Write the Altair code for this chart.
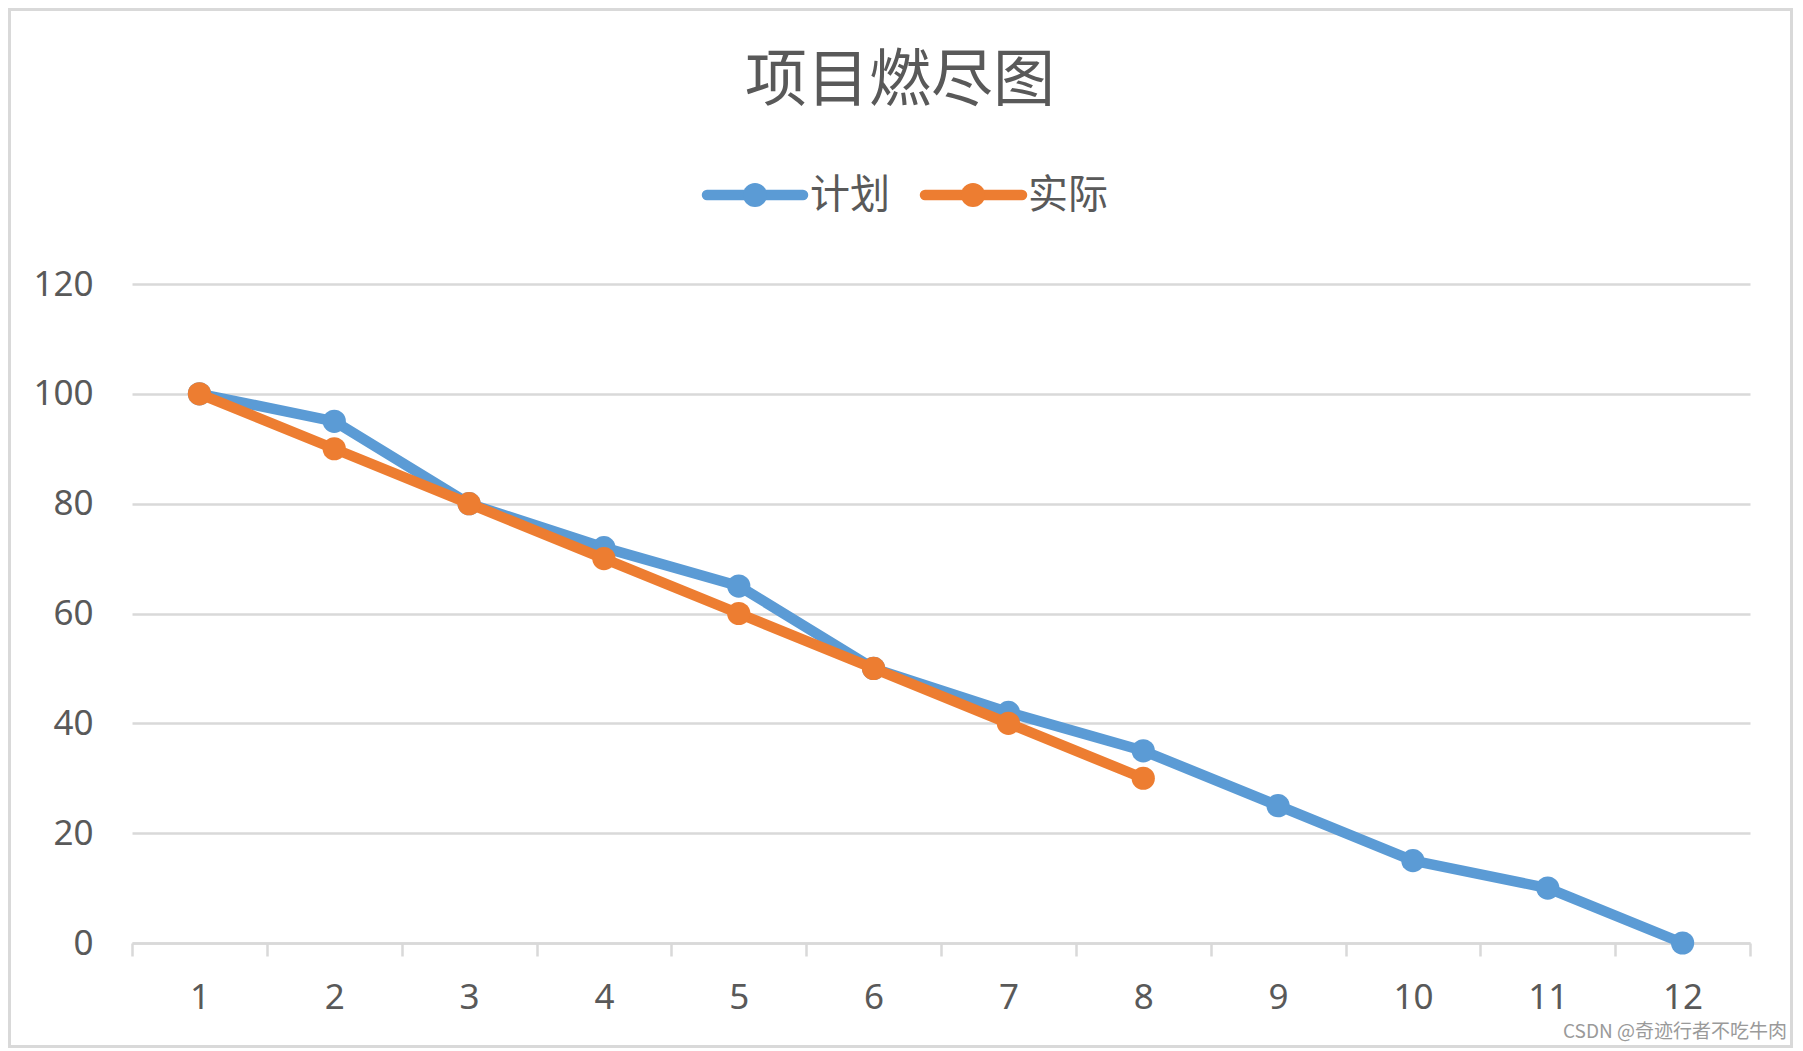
import altair as alt
import pandas as pd

# ---- data ----
periods = [1, 2, 3, 4, 5, 6, 7, 8, 9, 10, 11, 12]
plan = [100, 95, 80, 72, 65, 50, 42, 35, 25, 15, 10, 0]
actual = [100, 90, 80, 70, 60, 50, 40, 30]
series_names = ["计划", "实际"]
series_colors = ["#5B9BD5", "#ED7D31"]
y_ticks = [0, 20, 40, 60, 80, 100, 120]
title_text = "项目燃尽图"
watermark_text = "CSDN @奇迹行者不吃牛肉"

plan_df = pd.DataFrame({"period": periods, "value": plan, "series": series_names[0]})
actual_df = pd.DataFrame({"period": periods[:len(actual)], "value": actual, "series": series_names[1]})

W, H = 1618, 659
PAD_L, PAD_T = 124, 276
TOTAL_W, TOTAL_H = 1785, 1040
GRID = "#d9d9d9"
TXT = "#595959"
CJK = "Noto Sans CJK SC"
LAT = "Noto Sans"

x_enc = alt.X(
    "period:O",
    sort=periods,
    scale=alt.Scale(type="band", paddingInner=0, paddingOuter=0),
    axis=alt.Axis(
        title=None, labelAngle=0, labelFont=LAT, labelFontSize=35, labelColor=TXT,
        labelPadding=41, labelBaseline="middle",
        domainColor=GRID, domainWidth=2.5, tickColor=GRID, tickWidth=2.5, tickSize=13,
        tickBand="extent", grid=False,
    ),
)
y_enc = alt.Y(
    "value:Q",
    scale=alt.Scale(domain=[0, 120], nice=False),
    axis=alt.Axis(
        title=None, values=y_ticks, domain=False, ticks=False,
        labelFont=LAT, labelFontSize=35, labelColor=TXT, labelPadding=39,
        gridColor=GRID, gridWidth=2.5,
    ),
)
color_enc = alt.Color("series:N", scale=alt.Scale(domain=series_names, range=series_colors), legend=None)


def series_layers(df):
    base = alt.Chart(df).encode(x=x_enc, y=y_enc, color=color_enc)
    line = base.mark_line(strokeWidth=10.5, strokeCap="round", strokeJoin="round")
    pts = base.mark_point(filled=True, shape="circle", size=540, opacity=1)
    return [line, pts]


one = alt.Data(values=[{}])

border = alt.Chart(one).mark_rect(fill=None, stroke=GRID, strokeWidth=3).encode(
    x=alt.value(-PAD_L + 1.5), x2=alt.value(TOTAL_W - PAD_L - 1.5),
    y=alt.value(-PAD_T + 1.5), y2=alt.value(TOTAL_H - PAD_T - 1.5),
)

title = alt.Chart(one).mark_text(
    font=CJK, fontSize=62, color=TXT, align="center", baseline="middle"
).encode(x=alt.value(768), y=alt.value(-202), text=alt.value(title_text))

legend_layers = []
leg_pos = [(575, 671, 623, 678), (793, 890, 841, 896)]
for name, col, (x1, x2, xc, xt) in zip(series_names, series_colors, leg_pos):
    legend_layers.append(
        alt.Chart(one).mark_rule(color=col, strokeWidth=10.5, strokeCap="round").encode(
            x=alt.value(x1), x2=alt.value(x2), y=alt.value(-89)
        )
    )
    legend_layers.append(
        alt.Chart(one).mark_point(filled=True, shape="circle", size=580, opacity=1, color=col).encode(
            x=alt.value(xc), y=alt.value(-89)
        )
    )
    legend_layers.append(
        alt.Chart(one).mark_text(font=CJK, fontSize=40, color=TXT, align="left", baseline="middle").encode(
            x=alt.value(xt), y=alt.value(-88), text=alt.value(name)
        )
    )

watermark = alt.Chart(one).mark_text(
    font=CJK, fontSize=19, color="#9a9a9a", align="right", baseline="middle"
).encode(x=alt.value(1655), y=alt.value(748), text=alt.value(watermark_text))

chart = alt.layer(
    border,
    *series_layers(plan_df),
    *series_layers(actual_df),
    title,
    *legend_layers,
    watermark,
).properties(
    width=W, height=H,
    autosize=alt.AutoSizeParams(type="none"),
    padding={"left": PAD_L, "top": PAD_T, "right": TOTAL_W - PAD_L - W, "bottom": TOTAL_H - PAD_T - H},
).configure(background="white").configure_view(strokeWidth=0, stroke="transparent")

chart.save("out.html", embed_options={"renderer": "svg", "actions": False})
